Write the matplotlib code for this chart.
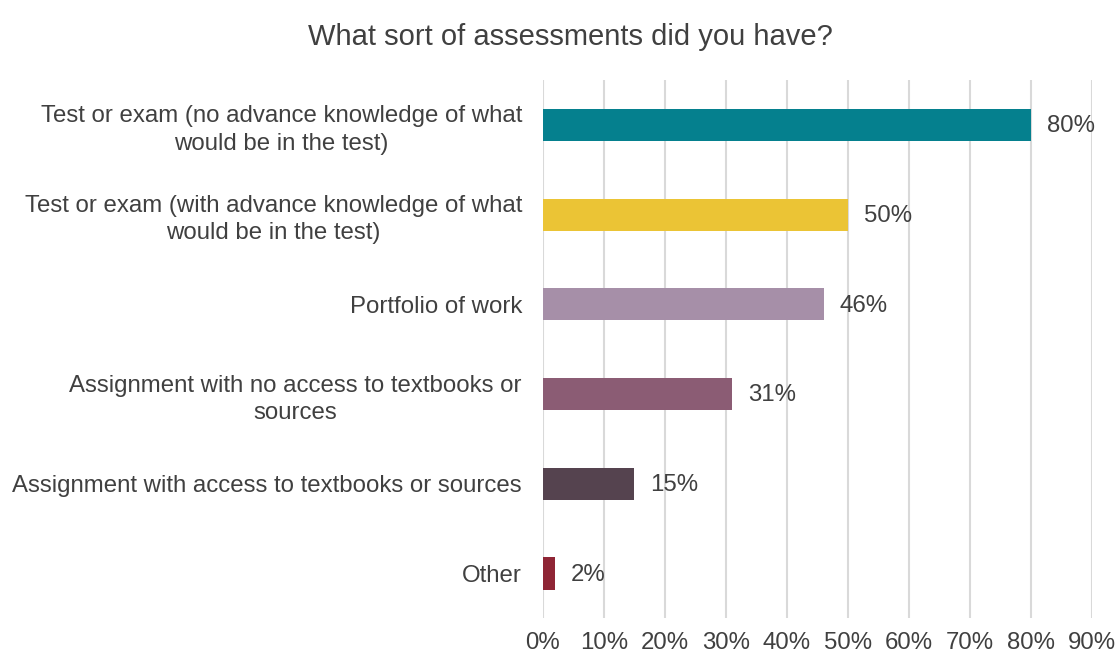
import matplotlib
matplotlib.use("Agg")
import matplotlib.pyplot as plt

plt.rcParams['font.family'] = ['Liberation Sans', 'DejaVu Sans']

categories = [
    "Test or exam (no advance knowledge of what\nwould be in the test)",
    "Test or exam (with advance knowledge of what\nwould be in the test)",
    "Portfolio of work",
    "Assignment with no access to textbooks or\nsources",
    "Assignment with access to textbooks or sources",
    "Other",
]
values = [80, 50, 46, 31, 15, 2]
colors = ["#05808E", "#EBC435", "#A68FA8", "#8B5C74", "#55434F", "#8F2535"]
x_ticks = [0, 10, 20, 30, 40, 50, 60, 70, 80, 90]
title = "What sort of assessments did you have?"

text_color = "#404040"

fig = plt.figure(figsize=(11.19, 6.57), dpi=100)
ax = fig.add_axes([0.485, 0.059, 0.491, 0.819])

pos = list(range(len(categories)))
ax.barh(pos, values, height=0.36, color=colors, zorder=3)
ax.set_ylim(len(categories) - 0.5, -0.5)
ax.set_xlim(0, 90)

for p, v in zip(pos, values):
    ax.annotate(f"{v}%", xy=(v, p), xytext=(11.5, -1), textcoords="offset points",
                va="center", ha="left", fontsize=17.3, color=text_color)

ax.set_yticks(pos)
ax.set_yticklabels(categories, fontsize=17.3, color=text_color,
                   multialignment="center", linespacing=1.3)
ax.set_xticks(x_ticks)
ax.set_xticklabels([f"{t}%" for t in x_ticks], fontsize=17.3, color=text_color)
ax.tick_params(axis="y", length=0, pad=15)
ax.tick_params(axis="x", length=0, pad=10)

ax.grid(axis="x", color="#D9D9D9", linewidth=1.5, zorder=0)
for s in ax.spines.values():
    s.set_visible(False)

fig.text(0.51, 0.943, title, ha="center", va="center", fontsize=21, color=text_color)

fig.savefig("out.png", dpi=100, facecolor="white")
